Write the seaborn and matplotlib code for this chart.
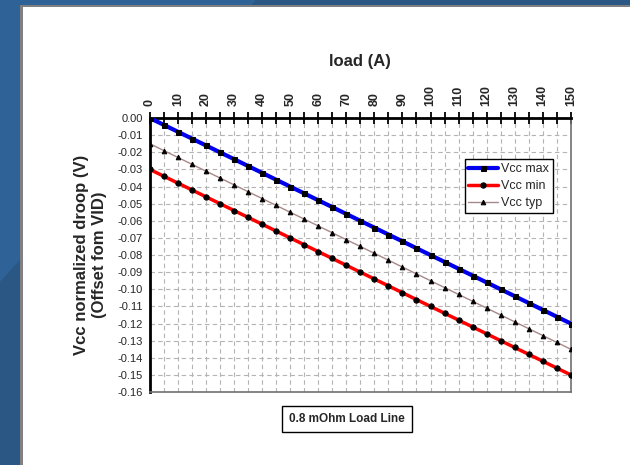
import matplotlib
matplotlib.use("Agg")
import matplotlib.pyplot as plt
from matplotlib.patches import Rectangle, Polygon
from matplotlib.ticker import FixedLocator
import seaborn as sns
import pandas as pd

sns.set_theme(style="white")
plt.rcParams['font.family'] = ['Liberation Sans', 'DejaVu Sans']

load = [0, 5, 10, 15, 20, 25, 30, 35, 40, 45, 50, 55, 60, 65, 70, 75,
        80, 85, 90, 95, 100, 105, 110, 115, 120, 125, 130, 135, 140, 145, 150]
vcc_max = [0.000, -0.004, -0.008, -0.012, -0.016, -0.020, -0.024, -0.028,
           -0.032, -0.036, -0.040, -0.044, -0.048, -0.052, -0.056, -0.060,
           -0.064, -0.068, -0.072, -0.076, -0.080, -0.084, -0.088, -0.092,
           -0.096, -0.100, -0.104, -0.108, -0.112, -0.116, -0.120]
vcc_min = [-0.030, -0.034, -0.038, -0.042, -0.046, -0.050, -0.054, -0.058,
           -0.062, -0.066, -0.070, -0.074, -0.078, -0.082, -0.086, -0.090,
           -0.094, -0.098, -0.102, -0.106, -0.110, -0.114, -0.118, -0.122,
           -0.126, -0.130, -0.134, -0.138, -0.142, -0.146, -0.150]
vcc_typ = [-0.015, -0.019, -0.023, -0.027, -0.031, -0.035, -0.039, -0.043,
           -0.047, -0.051, -0.055, -0.059, -0.063, -0.067, -0.071, -0.075,
           -0.079, -0.083, -0.087, -0.091, -0.095, -0.099, -0.103, -0.107,
           -0.111, -0.115, -0.119, -0.123, -0.127, -0.131, -0.135]
series_names = ["Vcc max", "Vcc min", "Vcc typ"]
x_tick_labels = [str(v) for v in range(0, 151, 10)]
y_tick_values = [v / 100 for v in range(0, -17, -1)]

fig = plt.figure(figsize=(6.3, 4.65), dpi=100)
fig.patch.set_facecolor("#2a5784")
# lighter diagonal region of the slide background
fig.patches.append(Polygon([(0, 1), (0, 0.394), (0.406, 1)],
                           closed=True, transform=fig.transFigure,
                           facecolor="#2f6398", edgecolor="none", zorder=-3))
fig.patches.append(Rectangle((0.0317, 0), 0.9683, 0.989, transform=fig.transFigure,
                             facecolor="#808080", edgecolor="none", zorder=-2))
fig.patches.append(Rectangle((0.036, 0), 0.964, 0.984, transform=fig.transFigure,
                             facecolor="white", edgecolor="none", zorder=-1))

ax = fig.add_axes([0.238, 0.157, 0.668, 0.589])
ax.set_zorder(2)
ax.set_facecolor("white")

df = pd.DataFrame({"load": load, "Vcc max": vcc_max, "Vcc min": vcc_min, "Vcc typ": vcc_typ})
styles = {
    "Vcc max": dict(color="#0000ee", lw=3.0, marker="s", ms=3.6),
    "Vcc min": dict(color="#ff0000", lw=2.5, marker="o", ms=3.8),
    "Vcc typ": dict(color="#a88888", lw=1.0, marker="^", ms=3.3),
}
for name in series_names:
    st = styles[name]
    sns.lineplot(data=df, x="load", y=name, ax=ax, color=st["color"], lw=st["lw"],
                 marker=st["marker"], markersize=st["ms"], markerfacecolor="black",
                 markeredgecolor="black", label=name, zorder=3)

ax.set_xlim(0, 150)
ax.set_ylim(-0.16, 0.0)

# grid
ax.xaxis.set_major_locator(FixedLocator(list(range(0, 151, 10))))
ax.xaxis.set_minor_locator(FixedLocator(list(range(5, 151, 10))))
ax.set_yticks(y_tick_values)
ax.grid(True, which="both", color="#b4b4b4", lw=0.8, ls=(0, (4, 3)))
ax.set_axisbelow(True)

# x axis on top
ax.xaxis.tick_top()
ax.xaxis.set_label_position("top")
ax.set_xticklabels(x_tick_labels, rotation=90, fontsize=9, fontweight="bold")
ax.tick_params(axis="x", which="both", direction="inout", length=8, width=1.3,
               color="black", pad=5, top=True, bottom=False)
ax.tick_params(axis="y", which="major", direction="out", length=4, width=1.3,
               color="black", labelsize=8, pad=1)
ax.set_yticklabels([f"{v:.2f}" for v in y_tick_values])
for lab in ax.get_yticklabels():
    lab.set_family(['Liberation Sans Narrow', 'Liberation Sans', 'DejaVu Sans'])

ax.set_xlabel("load (A)", fontsize=12, fontweight="bold", labelpad=13)
ax.set_ylabel("Vcc normalized droop (V)\n(Offset fom VID)", fontsize=12,
              fontweight="bold", labelpad=8, linespacing=1.2)

for s in ["left", "top"]:
    ax.spines[s].set_color("black")
    ax.spines[s].set_linewidth(2)
for s in ["right", "bottom"]:
    ax.spines[s].set_color("#707070")
    ax.spines[s].set_linewidth(1.2)

leg = ax.legend(loc="upper left", bbox_to_anchor=(0.748, 0.85), fontsize=9,
                frameon=True, fancybox=False, edgecolor="black", framealpha=1,
                handlelength=2.4, handletextpad=0.2, borderpad=0.3,
                labelspacing=0.4, borderaxespad=0)
leg.get_frame().set_linewidth(1.0)
for t in leg.get_texts():
    t.set_family(['Liberation Sans Narrow', 'Liberation Sans', 'DejaVu Sans'])

fig.text(347 / 630, 1 - 419 / 465, "0.8 mOhm Load Line", fontsize=8.5,
         fontweight="bold", ha="center", va="center",
         bbox=dict(boxstyle="square,pad=0.6", facecolor="white", edgecolor="black", lw=1))

fig.savefig("out.png", dpi=100, facecolor=fig.get_facecolor())
